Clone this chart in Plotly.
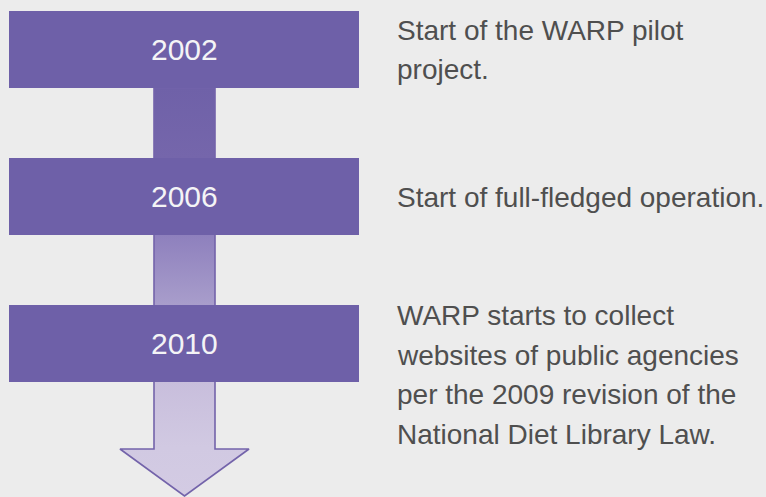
import plotly.graph_objects as go

# ---- data ----
years = ["2002", "2006", "2010"]
descriptions = [
    ["Start of the WARP pilot", "project."],
    ["Start of full-fledged operation."],
    ["WARP starts to collect", "websites of public agencies",
     "per the 2009 revision of the", "National Diet Library Law."],
]

# ---- layout constants (pixel space) ----
W, H = 766, 497
box_x0, box_x1 = 9, 359
box_tops = [11, 158, 305]
box_h = 77
desc_first_line = [30, 197.5, 315.5]
line_gap = 39.7
text_x = 395
shaft_x0, shaft_x1 = 154, 215
head_x0, head_x1 = 120, 249
head_y, tip_y = 449, 496
cx = (box_x0 + box_x1) / 2

BOX = "#6e60a8"
BG = "#ececec"

fig = go.Figure()

# arrow (single polygon with vertical gradient)
ax = [shaft_x0, shaft_x1, shaft_x1, head_x1, (head_x0 + head_x1) / 2, head_x0, shaft_x0, shaft_x0]
ay = [88, 88, head_y, head_y, tip_y, head_y, head_y, 88]
fig.add_trace(go.Scatter(
    x=ax, y=ay, mode="lines", fill="toself",
    line=dict(color="#7363aa", width=1.6),
    fillgradient=dict(
        type="vertical", start=88, stop=tip_y,
        colorscale=[[0, "#6f61a8"], [0.17, "#7566ab"], [0.36, "#8e80bd"],
                    [0.53, "#a89dcb"], [0.72, "#c8bedc"], [0.88, "#d1c9e2"],
                    [1, "#d3cbe3"]],
    ),
    hoverinfo="skip", showlegend=False,
))

shapes = []
annotations = []
for i, yr in enumerate(years):
    y0 = box_tops[i]
    shapes.append(dict(type="rect", xref="x", yref="y", x0=box_x0, x1=box_x1,
                       y0=y0, y1=y0 + box_h, fillcolor=BOX, line=dict(width=0),
                       layer="above"))
    annotations.append(dict(x=cx, y=y0 + box_h / 2, xref="x", yref="y",
                            text=yr, showarrow=False, xanchor="center", yanchor="middle",
                            font=dict(family="Liberation Sans", size=30, color="#f4f4f6")))
    for j, line in enumerate(descriptions[i]):
        annotations.append(dict(x=text_x, y=desc_first_line[i] + j * line_gap,
                                xref="x", yref="y", text=line, showarrow=False,
                                xanchor="left", yanchor="middle",
                                font=dict(family="Liberation Sans", size=28, color="#4f4f4f")))

fig.update_layout(
    width=W, height=H,
    margin=dict(l=0, r=0, t=0, b=0),
    paper_bgcolor=BG, plot_bgcolor=BG,
    xaxis=dict(range=[0, W], visible=False, fixedrange=True),
    yaxis=dict(range=[H, 0], visible=False, fixedrange=True),
    shapes=shapes, annotations=annotations,
    showlegend=False,
)

fig.write_html("out.html", config={"displayModeBar": False},
               post_script="document.body.style.margin='0';document.body.style.overflow='hidden';")
